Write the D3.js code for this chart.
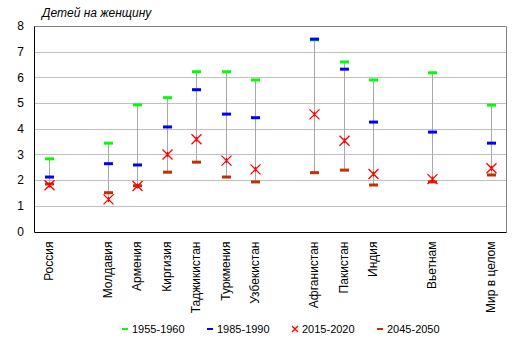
<!DOCTYPE html>
<html><head><meta charset="utf-8">
<script src="https://cdn.jsdelivr.net/npm/d3@7"></script>
<style>body{margin:0;background:#fff}svg{display:block;font-family:Arial,"Liberation Sans",sans-serif}</style>
</head><body>
<script>
const categories = ["Россия","","Молдавия","Армения","Киргизия","Таджикистан","Туркмения","Узбекистан","","Афганистан","Пакистан","Индия","","Вьетнам","","Мир в целом"];
const s1955 = [2.83,null,3.44,4.93,5.21,6.22,6.22,5.90,null,7.46,6.60,5.90,null,6.18,null,4.92];
const s1985 = [2.12,null,2.64,2.59,4.07,5.52,4.57,4.43,null,7.49,6.32,4.26,null,3.87,null,3.44];
const s2015 = [1.80,null,1.25,1.77,3.00,3.59,2.76,2.42,null,4.56,3.53,2.24,null,2.04,null,2.46];
const s2045 = [1.85,null,1.51,1.78,2.31,2.70,2.12,1.93,null,2.29,2.39,1.81,null,1.93,null,2.20];
const seriesNames = ["1955-1960","1985-1990","2015-2020","2045-2050"];
const yTicks = [0,1,2,3,4,5,6,7,8];

const W=520,H=357;
const m={l:34,r:14,t:26,b:126};
const svg=d3.select("body").append("svg").attr("width",W).attr("height",H);
const x=d3.scaleBand().domain(d3.range(categories.length)).range([m.l,W-m.r]);
const y=d3.scaleLinear().domain([0,8]).range([H-m.b+0.5,m.t]);
const colors=["#00ff00","#0000ff","#ff0000","#c03000"];
const all=[s1955,s1985,s2015,s2045];

// grid
svg.append("g").selectAll("line").data(yTicks.slice(1,-1)).join("line")
 .attr("x1",m.l).attr("x2",W-m.r).attr("y1",d=>Math.round(y(d))+0.5).attr("y2",d=>Math.round(y(d))+0.5)
 .attr("stroke","#c0c0c0");
// border
const x0=m.l+0.5,x1=W-m.r+0.5,yT=Math.round(y(8))+0.5,yB=Math.round(y(0))+0.5;
svg.append("path").attr("d",`M${x0},${yT}H${x1}V${yB}`).attr("fill","none").attr("stroke","#808080");
svg.append("path").attr("d",`M${x0},${yT}V${yB}H${x1}`).attr("fill","none").attr("stroke","#000");

// y axis labels
const yAxis=d3.axisLeft(y).tickValues(yTicks).tickSize(0).tickPadding(10).tickFormat(d3.format("d"));
const ga=svg.append("g").attr("transform",`translate(${m.l},0)`).call(yAxis);
ga.select(".domain").remove();
ga.selectAll("text").attr("font-size",12).attr("font-family","Arial,'Liberation Sans',sans-serif").attr("fill","#000");

// high-low lines
const idx=d3.range(categories.length).filter(i=>categories[i]!=="");
svg.append("g").selectAll("line").data(idx).join("line")
 .attr("x1",i=>Math.round(x(i)+x.bandwidth()/2)+0.5).attr("x2",i=>Math.round(x(i)+x.bandwidth()/2)+0.5)
 .attr("y1",i=>y(d3.max(all,s=>s[i]))).attr("y2",i=>y(d3.min(all,s=>s[i])))
 .attr("stroke","#a8a8a8");

// dash markers
function dash(g,cx,cy,col){g.append("rect").attr("x",cx-4.5).attr("y",cy-1.5).attr("width",9).attr("height",3).attr("fill",col);}
function star(g,cx,cy,col,s){
 g.append("path").attr("d",`M${cx-s},${cy-s}L${cx+s},${cy+s}M${cx-s},${cy+s}L${cx+s},${cy-s}M${cx},${cy-s*0.5}V${cy+s*0.5}`)
  .attr("stroke",col).attr("stroke-width",1.3).attr("fill","none");
}
const gm=svg.append("g");
[3,0,1].forEach(k=>{
 idx.forEach(i=>{const cx=Math.round(x(i)+x.bandwidth()/2)+0.5; dash(gm,cx,y(all[k][i]),colors[k]);});
});
idx.forEach(i=>{const cx=Math.round(x(i)+x.bandwidth()/2)+0.5; star(gm,cx,y(s2015[i]),colors[2],5);});

// category labels
svg.append("g").selectAll("text").data(idx).join("text")
 .attr("transform",i=>`translate(${x(i)+x.bandwidth()/2+4},${yB+9}) rotate(-90)`)
 .attr("text-anchor","end").attr("font-size",12).text(i=>categories[i]);

// title
svg.append("text").attr("x",42).attr("y",17).attr("font-size",12).attr("font-style","italic").text("Детей на женщину");

// legend
const lx=[121,206,291,376];
const lg=svg.append("g");
seriesNames.forEach((n,k)=>{
 const cx=lx[k]+4, cy=329;
 if(k===2) star(lg,cx,cy,colors[k],3); else lg.append("rect").attr("x",cx-3).attr("y",cy-1).attr("width",6).attr("height",2).attr("fill",colors[k]);
 lg.append("text").attr("x",lx[k]+11).attr("y",cy+4).attr("font-size",11).text(n);
});
</script>
</body></html>
